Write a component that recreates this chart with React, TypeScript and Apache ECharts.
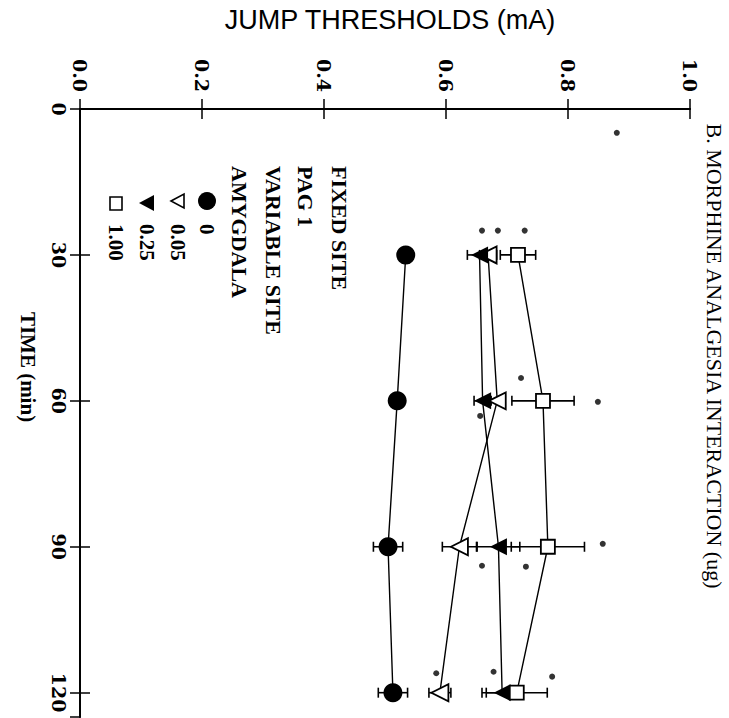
import React, { useEffect, useRef } from "react";
import * as echarts from "echarts";

// Time points (min)
const times = [30, 60, 90, 120];
// Jump thresholds (mA) per amygdala morphine dose (ug)
const amy0 = [0.534, 0.52, 0.505, 0.513];
const amy0Err = [0.008, 0.008, 0.024, 0.024];
const amy005 = [0.669, 0.684, 0.622, 0.59];
const amy005Err = [0.014, 0.012, 0.028, 0.018];
const amy025 = [0.655, 0.66, 0.686, 0.692];
const amy025Err = [0.02, 0.014, 0.035, 0.033];
const amy100 = [0.718, 0.759, 0.767, 0.716];
const amy100Err = [0.029, 0.051, 0.06, 0.05];
// significance dots: threshold value and time position
const sigValues = [0.659, 0.685, 0.729, 0.723, 0.849, 0.656, 0.857, 0.659, 0.731, 0.584, 0.678, 0.774, 0.88];
const sigTimes = [25, 25, 25, 55.3, 60.2, 63.1, 89.4, 93.9, 94.1, 116, 115.7, 116.7, 4.9];

const xTickLabels = ["0.0", "0.2", "0.4", "0.6", "0.8", "1.0"];
const legendHeader = ["FIXED SITE", "PAG 1", "VARIABLE SITE", "AMYGDALA"];
const legendDoses = ["0", "0.05", "0.25", "1.00"];

const BLACK = "#000";
const SERIF = "'Liberation Serif', 'Times New Roman', serif";

function pts(vals: number[]) {
  return vals.map((v, i) => [v, times[i]]);
}

function errSeries(vals: number[], errs: number[]) {
  return {
    type: "custom",
    xAxisIndex: 0,
    yAxisIndex: 0,
    z: 1,
    silent: true,
    encode: { x: 0, y: 1 },
    data: vals.map((v, i) => [v, times[i], errs[i]]),
    renderItem: (_params: any, api: any) => {
      const v = api.value(0);
      const t = api.value(1);
      const e = api.value(2);
      const lo = api.coord([v - e, t]);
      const hi = api.coord([v + e, t]);
      const cap = 5;
      const st = { stroke: BLACK, lineWidth: 1.6 };
      return {
        type: "group",
        children: [
          { type: "line", shape: { x1: lo[0], y1: lo[1], x2: hi[0], y2: hi[1] }, style: st },
          { type: "line", shape: { x1: lo[0], y1: lo[1] - cap, x2: lo[0], y2: lo[1] + cap }, style: st },
          { type: "line", shape: { x1: hi[0], y1: hi[1] - cap, x2: hi[0], y2: hi[1] + cap }, style: st },
        ],
      };
    },
  };
}

function lineSeries(name: string, vals: number[], symbol: string, size: number, filled: boolean, rotate = 0) {
  return {
    name,
    type: "line",
    xAxisIndex: 0,
    yAxisIndex: 0,
    z: 3,
    data: pts(vals),
    symbol,
    symbolSize: size,
    symbolRotate: rotate,
    showSymbol: true,
    lineStyle: { color: BLACK, width: 1.4 },
    itemStyle: {
      color: filled ? BLACK : "#fff",
      borderColor: BLACK,
      borderWidth: filled ? 0 : 1.8,
    },
  };
}

export default function App() {
  const ref = useRef<HTMLDivElement>(null);
  useEffect(() => {
    if (!ref.current) return;
    const chart = echarts.init(ref.current, undefined, { renderer: "svg" });

    const axisLine = { show: true, lineStyle: { color: BLACK, width: 1.8 } };
    const axisTick = { show: true, inside: true, length: 10, lineStyle: { color: BLACK, width: 1.5 } };
    const tickFont = { fontFamily: "'DejaVu Serif', serif", fontWeight: "bold", fontSize: 19, color: BLACK };

    const legendX = [207, 178, 147, 116];
    const headerX = [339, 305, 273, 239];

    const graphics: any[] = [
      {
        type: "text",
        x: 390,
        y: 20,
        style: {
          text: "JUMP THRESHOLDS (mA)",
          x: 0,
          y: 0,
          align: "center",
          verticalAlign: "middle",
          textAlign: "center",
          textVerticalAlign: "middle",
          fontFamily: "'Liberation Sans', Arial, sans-serif",
          fontSize: 27,
          fill: BLACK,
        },
      },
      {
        type: "text",
        x: 714,
        y: 356,
        rotation: -Math.PI / 2,
        style: {
          text: "B. MORPHINE ANALGESIA INTERACTION (ug)",
          x: 0,
          y: 0,
          align: "center",
          verticalAlign: "middle",
          textAlign: "center",
          textVerticalAlign: "middle",
          fontFamily: SERIF,
          fontSize: 22,
          fill: BLACK,
        },
      },
      {
        type: "text",
        x: 28,
        y: 367,
        rotation: -Math.PI / 2,
        style: {
          text: "TIME (min)",
          x: 0,
          y: 0,
          align: "center",
          verticalAlign: "middle",
          textAlign: "center",
          textVerticalAlign: "middle",
          fontFamily: SERIF,
          fontWeight: "bold",
          fontSize: 21,
          fill: BLACK,
        },
      },
    ];

    legendHeader.forEach((txt, i) => {
      graphics.push({
        type: "text",
        x: headerX[i],
        y: 166,
        rotation: -Math.PI / 2,
        style: {
          text: txt,
          x: 0,
          y: 0,
          align: "left",
          verticalAlign: "middle",
          textAlign: "left",
          textVerticalAlign: "middle",
          fontFamily: SERIF,
          fontWeight: "bold",
          fontSize: 22,
          fill: BLACK,
        },
      });
    });
    legendDoses.forEach((txt, i) => {
      graphics.push({
        type: "text",
        x: legendX[i],
        y: 224,
        rotation: -Math.PI / 2,
        style: {
          text: txt,
          x: 0,
          y: 0,
          align: "left",
          verticalAlign: "middle",
          textAlign: "left",
          textVerticalAlign: "middle",
          fontFamily: SERIF,
          fontWeight: "bold",
          fontSize: 21,
          fill: BLACK,
        },
      });
    });
    // legend markers
    const my = 201;
    graphics.push({ type: "circle", shape: { cx: legendX[0], cy: my, r: 9 }, style: { fill: BLACK } });
    graphics.push({
      type: "polygon",
      shape: { points: [[legendX[1] - 7, my], [legendX[1] + 6, my - 7], [legendX[1] + 6, my + 7]] },
      style: { fill: "#fff", stroke: BLACK, lineWidth: 1.6 },
    });
    graphics.push({
      type: "polygon",
      shape: { points: [[legendX[2] - 8, my + 2], [legendX[2] + 7, my - 6], [legendX[2] + 7, my + 10]] },
      style: { fill: BLACK },
    });
    graphics.push({
      type: "rect",
      shape: { x: legendX[3] - 6, y: my - 4, width: 12, height: 13 },
      style: { fill: "#fff", stroke: BLACK, lineWidth: 1.6 },
    });

    const option: any = {
      animation: false,
      backgroundColor: "#fff",
      grid: { left: 80, right: 39, top: 109, bottom: 1, containLabel: false },
      xAxis: [
        {
          type: "value",
          position: "top",
          min: 0,
          max: 1,
          interval: 0.2,
          axisLine,
          axisTick,
          splitLine: { show: false },
          axisLabel: {
            ...tickFont,
            rotate: -90,
            margin: 17,
            formatter: (v: number) => xTickLabels[Math.round(v / 0.2)] ?? v.toFixed(1),
          },
        },
        {
          type: "value",
          position: "bottom",
          min: 0,
          max: 1,
          interval: 0.2,
          axisLine,
          axisTick,
          splitLine: { show: false },
          axisLabel: { show: false },
        },
      ],
      yAxis: [
        {
          type: "value",
          position: "left",
          inverse: true,
          min: 0,
          max: 125,
          interval: 30,
          axisLine,
          axisTick,
          splitLine: { show: false },
          axisLabel: { ...tickFont, rotate: -90, margin: 12, showMaxLabel: false },
        },
        {
          type: "value",
          position: "right",
          inverse: true,
          min: 0,
          max: 125,
          interval: 30,
          axisLine,
          axisTick,
          splitLine: { show: false },
          axisLabel: { show: false },
        },
      ],
      series: [
        errSeries(amy0, amy0Err),
        errSeries(amy005, amy005Err),
        errSeries(amy025, amy025Err),
        errSeries(amy100, amy100Err),
        lineSeries("0", amy0, "circle", 19, true),
        lineSeries("0.05", amy005, "triangle", 17, false, 90),
        lineSeries("0.25", amy025, "triangle", 17, true, 90),
        lineSeries("1.00", amy100, "rect", 14, false),
        {
          type: "scatter",
          xAxisIndex: 0,
          yAxisIndex: 0,
          z: 4,
          symbol: "circle",
          symbolSize: 6,
          itemStyle: { color: BLACK },
          data: sigValues.map((v, i) => [v, sigTimes[i]]),
        },
      ],
      graphic: graphics,
    };
    chart.setOption(option);
    return () => chart.dispose();
  }, []);

  return (
    <div
      ref={ref}
      style={{ position: "absolute", left: 0, top: 0, width: 729, height: 718, background: "#fff" }}
    />
  );
}
